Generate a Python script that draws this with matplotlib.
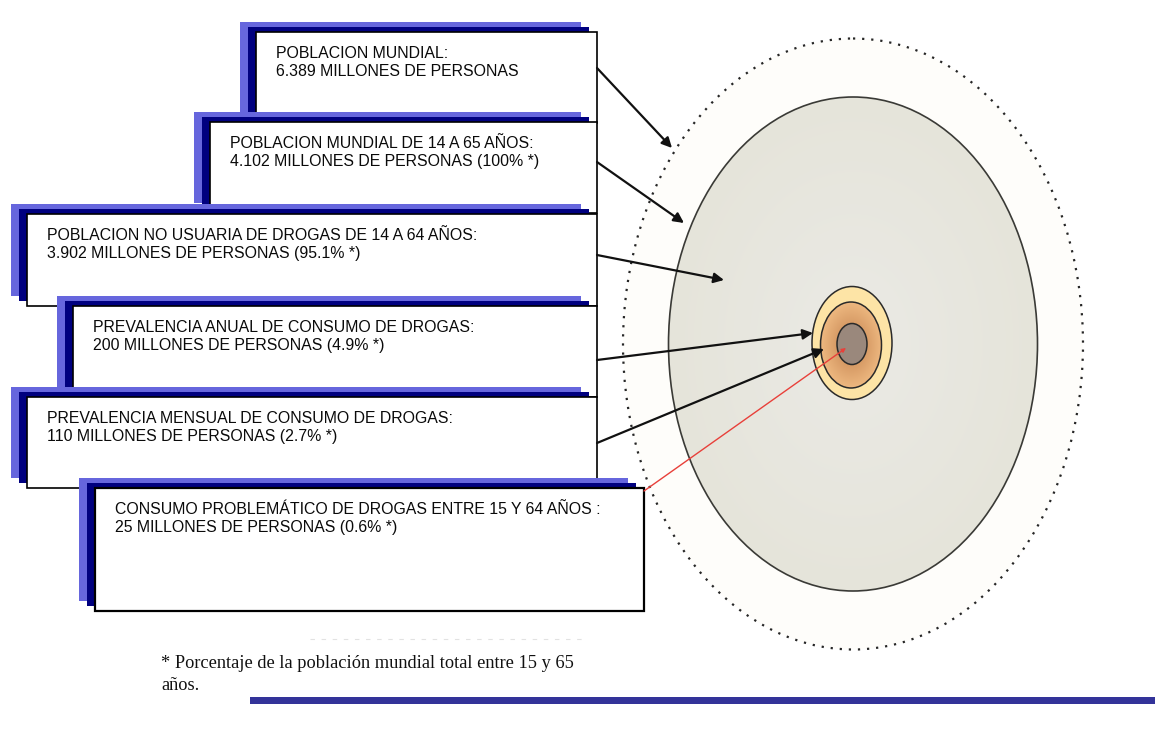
import numpy as np
import matplotlib
matplotlib.use("Agg")
import matplotlib.pyplot as plt
from matplotlib.patches import Rectangle, Ellipse, FancyArrowPatch

# ---- data -------------------------------------------------------------
titles = [
    "POBLACION MUNDIAL:",
    "POBLACION MUNDIAL DE 14 A 65 AÑOS:",
    "POBLACION NO USUARIA DE DROGAS DE 14 A 64 AÑOS:",
    "PREVALENCIA ANUAL DE CONSUMO DE DROGAS:",
    "PREVALENCIA MENSUAL DE CONSUMO DE DROGAS:",
    "CONSUMO PROBLEMÁTICO DE DROGAS ENTRE 15 Y 64 AÑOS :",
]
millions = [6389, 4102, 3902, 200, 110, 25]
percent = [None, 100, 95.1, 4.9, 2.7, 0.6]
footnote = ["* Porcentaje de la población mundial total entre 15 y 65", "años."]

# ---- layout (pixel space) --------------------------------------------
W, H = 1155, 731
# white boxes: left, top, right, bottom
boxes = [
    (256, 32, 597, 123),
    (210, 122, 597, 213),
    (27, 214, 597, 306),
    (73, 306, 597, 397),
    (27, 397, 597, 488),
    (95, 488, 644, 611),
]
# arrow start / end points
arrows = [
    ((597, 68), (672, 148)),
    ((597, 162), (684, 223)),
    ((597, 255), (724, 280)),
    ((597, 360), (813, 333)),
    ((597, 443), (824, 349)),
]
red_arrow = ((644, 491), (846, 348))

LIGHT = "#6666dd"
NAVY = "#00007f"

fig = plt.figure(figsize=(W / 100, H / 100), dpi=100)
ax = fig.add_axes([0, 0, 1, 1])
ax.set_xlim(0, W)
ax.set_ylim(H, 0)
ax.axis("off")

# ---- concentric population rings --------------------------------------
cx, cy = 853, 344
outer = Ellipse((cx, cy), 460, 611, facecolor="#fefdfa", edgecolor="none", zorder=1)
ax.add_patch(outer)
dots = Ellipse((cx, cy), 460, 611, facecolor="none", edgecolor="#262626",
               lw=1.6, linestyle=(0, (1.0, 3.1)), zorder=2)
ax.add_patch(dots)

# inner ellipse with a soft radial shade
ia, ib = 184.5, 247
x0, x1, y0, y1 = cx - ia, cx + ia, cy - ib, cy + ib
gx, gy = np.meshgrid(np.linspace(x0, x1, 400), np.linspace(y0, y1, 500))
r = np.sqrt(((gx - cx) / ia) ** 2 + ((gy - cy) / ib) ** 2).clip(0, 1)
c_in = np.array([0.920, 0.918, 0.900])
c_out = np.array([0.900, 0.895, 0.855])
img = c_in[None, None, :] * (1 - r[..., None]) + c_out[None, None, :] * r[..., None]
inner = Ellipse((cx, cy), 2 * ia, 2 * ib, facecolor="none", edgecolor="#3a3a36",
                lw=1.2, zorder=4)
ax.add_patch(inner)
im = ax.imshow(img, extent=(x0, x1, y1, y0), origin="upper", zorder=3,
               interpolation="bilinear", aspect="auto")
im.set_clip_path(inner)

# small core rings
ax.add_patch(Ellipse((852, 343), 80, 113, facecolor="#fde4a6", edgecolor="#2a2a2a",
                     lw=1.1, zorder=5))
mid = Ellipse((851, 345), 61, 86, facecolor="none", edgecolor="#2a2a2a", lw=1.1, zorder=6)
ax.add_patch(mid)
ma, mb = 30.5, 43
mx0, mx1, my0, my1 = 851 - ma, 851 + ma, 345 - mb, 345 + mb
mgx, mgy = np.meshgrid(np.linspace(mx0, mx1, 100), np.linspace(my0, my1, 140))
mr = np.sqrt(((mgx - 851) / ma) ** 2 + ((mgy - 345) / mb) ** 2).clip(0, 1)
m_in = np.array([0.76, 0.50, 0.30])
m_out = np.array([0.93, 0.72, 0.50])
mimg = m_in[None, None, :] * (1 - mr[..., None]) + m_out[None, None, :] * mr[..., None]
mim = ax.imshow(mimg, extent=(mx0, mx1, my1, my0), origin="upper", zorder=5.5,
                interpolation="bilinear", aspect="auto")
mim.set_clip_path(mid)
ax.add_patch(Ellipse((852, 344), 30, 41, facecolor="#9a887c", edgecolor="#2a2a2a",
                     lw=1.1, zorder=7))


# ---- labelled boxes ---------------------------------------------------
def fmt_millions(v):
    return f"{v:,}".replace(",", ".")


for i, (l, t, rgt, b) in enumerate(boxes):
    w, h = rgt - l, b - t
    z = 10 + i * 3
    ax.add_patch(Rectangle((l - 16, t - 10), w, h, facecolor=LIGHT, edgecolor="none", zorder=z))
    ax.add_patch(Rectangle((l - 8, t - 5), w, h, facecolor=NAVY, edgecolor="none", zorder=z + 0.5))
    ax.add_patch(Rectangle((l, t), w, h, facecolor="white", edgecolor="black",
                           lw=1.2 if i < 5 else 1.6, zorder=z + 1))
    line2 = f"{fmt_millions(millions[i])} MILLONES DE PERSONAS"
    if percent[i] is not None:
        line2 += f" ({percent[i]:g}% *)"
    tx = l + 20
    ax.text(tx, t + 26, titles[i], fontsize=11.4, family="Liberation Sans",
            va="baseline", ha="left", color="#0a0a0a", zorder=z + 2)
    ax.text(tx, t + 44, line2, fontsize=11.4, family="Liberation Sans",
            va="baseline", ha="left", color="#0a0a0a", zorder=z + 2)

# ---- pointers ---------------------------------------------------------
for (p0, p1) in arrows:
    ax.add_patch(FancyArrowPatch(p0, p1, arrowstyle="-|>", mutation_scale=15,
                                 lw=1.6, color="#111111", shrinkA=0, shrinkB=0, zorder=30))
ax.add_patch(FancyArrowPatch(red_arrow[0], red_arrow[1], arrowstyle="-|>", mutation_scale=6,
                             lw=1.0, color="#e8403a", shrinkA=0, shrinkB=0, zorder=30))

# ---- footnote ---------------------------------------------------------
ax.plot([310, 585], [639, 639], color="#e2e2e2", lw=0.8, linestyle=(0, (4, 6)), zorder=1)
ax.text(161, 668, footnote[0], fontsize=13.2, family="Liberation Serif",
        va="baseline", ha="left", color="#111111")
ax.text(161, 690, footnote[1], fontsize=13.2, family="Liberation Serif",
        va="baseline", ha="left", color="#111111")

# bottom rule
ax.add_patch(Rectangle((250, 697), W - 250, 7, facecolor="#333399", edgecolor="none", zorder=2))

fig.savefig("out.png", dpi=100)
